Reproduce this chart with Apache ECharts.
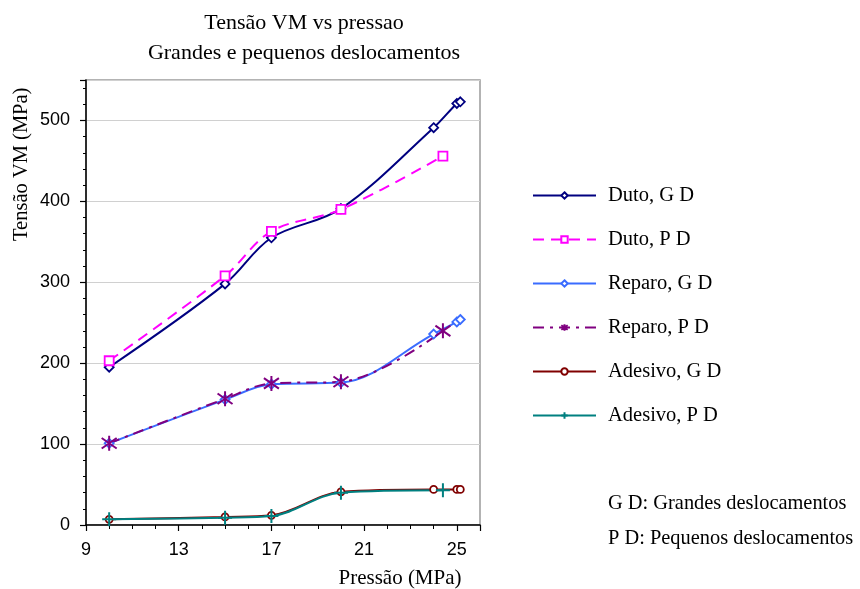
<!DOCTYPE html>
<html>
<head>
<meta charset="utf-8">
<script src="https://cdn.jsdelivr.net/npm/echarts@6/dist/echarts.min.js"></script>
<style>
  html, body { margin: 0; padding: 0; background: #fff; }
  #chart { width: 860px; height: 589px; }
</style>
</head>
<body>
<div id="chart"></div>
<script>
// Pressure values (MPa) for large-displacement (G D) and small-displacement (P D) runs
const pressaoGD = [10, 15, 17, 20, 24, 25, 25.15];
const pressaoPD = [10, 15, 17, 20, 24.4];

// Von Mises stress (MPa)
const dutoGD    = [195, 298, 355, 391, 491, 521, 523];
const dutoPD    = [203, 308, 363, 390, 456];
const reparoGD  = [101, 155, 174, 176, 236, 251, 254];
const reparoPD  = [101, 156, 175, 177, 240];
const adesivoGD = [7, 10, 12, 41, 44, 44, 44];
const adesivoPD = [7, 9, 11, 40, 43];

const seriesNames = ['Duto, G D', 'Duto, P D', 'Reparo, G D', 'Reparo, P D', 'Adesivo, G D', 'Adesivo, P D'];

const serif = '"Liberation Serif", "Times New Roman", serif';
const sans = '"Liberation Sans", Arial, sans-serif';

function pairs(xs, ys) {
  return xs.map((x, i) => [x, ys[i]]);
}

const starPath = 'path://M5,0 L5,10 M0.5,1.5 L9.5,8.5 M0.5,8.5 L9.5,1.5';
const crossPath = 'path://M4,0 L4,14 M0,7 L8,7';

function makeSeries(name, xs, ys, color, lineType, symbol, size, fill, bw) {
  return {
    name: name,
    type: 'line',
    smooth: 0.35,
    data: pairs(xs, ys),
    symbol: symbol,
    symbolSize: size,
    showAllSymbol: true,
    lineStyle: { color: color, width: 2, type: lineType },
    itemStyle: { color: fill, borderColor: color, borderWidth: bw },
    emphasis: { disabled: true }
  };
}

const chart = echarts.init(document.getElementById('chart'), null, { renderer: 'canvas' });

chart.setOption({
  animation: false,
  backgroundColor: '#ffffff',
  title: {
    text: 'Tensão VM vs pressao\nGrandes e pequenos deslocamentos',
    left: 299,
    textAlign: 'center',
    top: 3,
    textStyle: { fontFamily: serif, fontSize: 22, fontWeight: 'normal', color: '#000', lineHeight: 30 }
  },
  grid: {
    left: 86, right: 380, top: 80, bottom: 64,
    show: true, borderColor: '#9a9a9a', borderWidth: 1.5
  },
  legend: {
    orient: 'vertical',
    left: 527,
    top: 180,
    itemWidth: 63,
    itemHeight: 8,
    itemGap: 23,
    data: seriesNames,
    textStyle: { fontFamily: serif, fontSize: 20.5, color: '#000', padding: [0, 0, 0, 7] }
  },
  xAxis: {
    type: 'value',
    min: 9, max: 26, interval: 4,
    axisLine: { show: true, lineStyle: { color: '#000', width: 1.5 } },
    axisTick: { show: true, inside: false, length: 6, lineStyle: { color: '#000', width: 1.2 } },
    minorTick: { show: true, splitNumber: 4, length: 4, lineStyle: { color: '#000', width: 1 } },
    splitLine: { show: false },
    axisLabel: { fontFamily: sans, fontSize: 18, color: '#000', margin: 16, showMaxLabel: false }
  },
  yAxis: {
    type: 'value',
    min: 0, max: 550, interval: 100,
    axisLine: { show: true, lineStyle: { color: '#000', width: 1.5 } },
    axisTick: { show: true, length: 6, lineStyle: { color: '#000', width: 1.2 } },
    minorTick: { show: true, splitNumber: 5, length: 3, lineStyle: { color: '#000', width: 1 } },
    splitLine: { show: true, lineStyle: { color: '#d0d0d0', width: 1 } },
    axisLabel: { fontFamily: sans, fontSize: 18, color: '#000', margin: 16, showMaxLabel: false }
  },
  graphic: [
    {
      type: 'text', x: 400, y: 568,
      style: { text: 'Pressão (MPa)', font: '21px ' + serif, fill: '#000', align: 'center' }
    },
    {
      type: 'text', x: 11, y: 241, rotation: Math.PI / 2,
      style: { text: 'Tensão VM (MPa)', font: '20.5px ' + serif, fill: '#000', verticalAlign: 'top' }
    },
    {
      type: 'text', left: 608, top: 494,
      style: { text: 'G D: Grandes deslocamentos', font: '20.4px ' + serif, fill: '#000' }
    },
    {
      type: 'text', left: 608, top: 529,
      style: { text: 'P D: Pequenos deslocamentos', font: '20.4px ' + serif, fill: '#000' }
    }
  ],
  series: [
    makeSeries(seriesNames[0], pressaoGD, dutoGD, '#000080', 'solid', 'diamond', 9, '#ffffff', 1.8),
    makeSeries(seriesNames[1], pressaoPD, dutoPD, '#ff00ff', [11, 7], 'rect', 9, '#ffffff', 1.8),
    makeSeries(seriesNames[2], pressaoGD, reparoGD, '#3a6cff', 'solid', 'diamond', 9, '#ffffff', 1.8),
    makeSeries(seriesNames[3], pressaoPD, reparoPD, '#800080', [11, 6, 3, 6], starPath, 15, '#800080', 2),
    makeSeries(seriesNames[4], pressaoGD, adesivoGD, '#800000', 'solid', 'circle', 7, '#ffffff', 1.8),
    makeSeries(seriesNames[5], pressaoPD, adesivoPD, '#008080', 'solid', crossPath, 14, '#008080', 2)
  ]
});
</script>
</body>
</html>
